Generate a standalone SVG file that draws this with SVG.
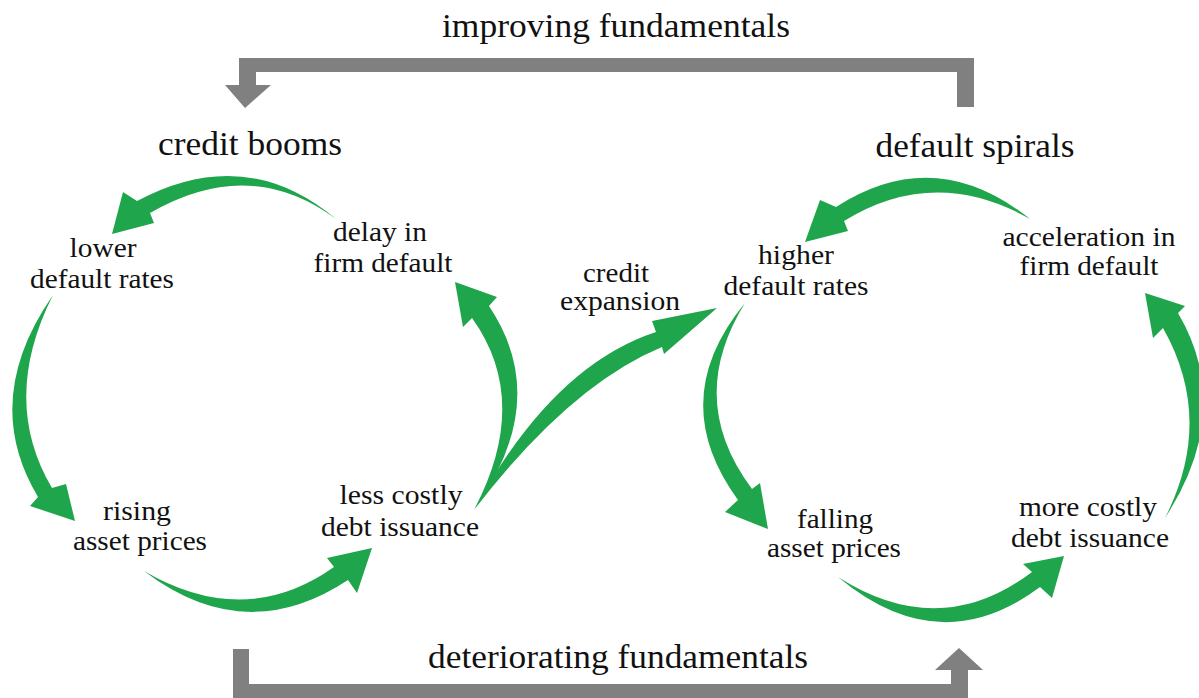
<svg xmlns="http://www.w3.org/2000/svg" width="1199" height="698" viewBox="0 0 1199 698">
<style>
.bg{fill:#ffffff}
.g{fill:#1fa54b}
.gray{fill:#808080}
.lbl{font-family:"Liberation Serif","DejaVu Serif",serif;font-size:27px;fill:#111;text-anchor:middle}
.hd{font-family:"Liberation Serif","DejaVu Serif",serif;font-size:33px;fill:#111;text-anchor:middle}
</style>
<rect class="bg" x="0" y="0" width="1199" height="698"/>

<g id="connectors">
  <path id="gray-top" class="gray" d="M974,58 L974,107 L957,107 L957,72 L256,72 L256,85 L271,85 L245,108 L225,85 L239,85 L239,58 Z"/>
  <path id="gray-bottom" class="gray" d="M233,649 L249,649 L249,684 L951,684 L951,670 L935,670 L959,648 L983,670 L968,670 L968,698 L233,698 Z"/>

  <path id="a-delay-lower" class="g" d="M336,219 Q245,143 137,201 L123,192 L112,234 L154,223 L150,213 Q250,155 336,219 Z"/>
  <path id="a-lower-rising" class="g" d="M53,295 Q-20,400 38,497 L30,506 L75,521 L66,484 L52,488 Q0,400 53,295 Z"/>
  <path id="a-rising-less" class="g" d="M144,571 Q245,648 348,580 L357,593 L372,548 L327,558 L334,567 Q245,630 144,571 Z"/>
  <path id="a-less-delay" class="g" d="M475,508 Q552,400 489,306 L497,297 L455,282 L463,327 L472,318 Q531,400 475,508 Z"/>
  <path id="a-credit" class="g" d="M474,510 Q570,385 662,347 L664,354 L717,308 L652,321 L656,332 Q552,366 474,510 Z"/>

  <path id="a-accel-higher" class="g" d="M1030,219 Q935,143 836,207 L820,200 L805,242 L848,231 L844,221 Q935,165 1030,219 Z"/>
  <path id="a-higher-falling" class="g" d="M745,303 Q665,400 738,500 L725,512 L768,529 L760,483 L752,489 Q685,400 745,303 Z"/>
  <path id="a-falling-more" class="g" d="M838,577 Q940,662 1040,587 L1052,598 L1064,556 L1023,564 L1032,572 Q940,642 838,577 Z"/>
  <path id="a-more-accel" class="g" d="M1165,518 Q1235,410 1178,313 L1185,306 L1145,293 L1153,338 L1163,328 Q1215,420 1165,518 Z"/>
</g>

<g id="headings">
  <text class="hd" x="616" y="37" textLength="348" lengthAdjust="spacingAndGlyphs">improving fundamentals</text>
  <text class="hd" x="250" y="155" textLength="184" lengthAdjust="spacingAndGlyphs">credit booms</text>
  <text class="hd" x="975" y="157" textLength="199" lengthAdjust="spacingAndGlyphs">default spirals</text>
  <text class="hd" x="618" y="668" textLength="380" lengthAdjust="spacingAndGlyphs">deteriorating fundamentals</text>
</g>

<g id="node-lower-default">
  <text class="lbl" x="103" y="257" textLength="67" lengthAdjust="spacingAndGlyphs">lower</text>
  <text class="lbl" x="102" y="288" textLength="144" lengthAdjust="spacingAndGlyphs">default rates</text>
</g>
<g id="node-delay">
  <text class="lbl" x="380" y="241" textLength="94" lengthAdjust="spacingAndGlyphs">delay in</text>
  <text class="lbl" x="383" y="272" textLength="139" lengthAdjust="spacingAndGlyphs">firm default</text>
</g>
<g id="node-rising">
  <text class="lbl" x="137" y="520" textLength="68" lengthAdjust="spacingAndGlyphs">rising</text>
  <text class="lbl" x="140" y="550" textLength="134" lengthAdjust="spacingAndGlyphs">asset prices</text>
</g>
<g id="node-less-costly">
  <text class="lbl" x="401" y="504" textLength="123" lengthAdjust="spacingAndGlyphs">less costly</text>
  <text class="lbl" x="400" y="536" textLength="158" lengthAdjust="spacingAndGlyphs">debt issuance</text>
</g>
<g id="node-credit-expansion">
  <text class="lbl" x="616" y="282" textLength="66" lengthAdjust="spacingAndGlyphs">credit</text>
  <text class="lbl" x="620" y="310" textLength="120" lengthAdjust="spacingAndGlyphs">expansion</text>
</g>
<g id="node-higher-default">
  <text class="lbl" x="796" y="264" textLength="76" lengthAdjust="spacingAndGlyphs">higher</text>
  <text class="lbl" x="796" y="295" textLength="145" lengthAdjust="spacingAndGlyphs">default rates</text>
</g>
<g id="node-acceleration">
  <text class="lbl" x="1089" y="246" textLength="173" lengthAdjust="spacingAndGlyphs">acceleration in</text>
  <text class="lbl" x="1089" y="275" textLength="139" lengthAdjust="spacingAndGlyphs">firm default</text>
</g>
<g id="node-falling">
  <text class="lbl" x="835" y="528" textLength="76" lengthAdjust="spacingAndGlyphs">falling</text>
  <text class="lbl" x="834" y="557" textLength="134" lengthAdjust="spacingAndGlyphs">asset prices</text>
</g>
<g id="node-more-costly">
  <text class="lbl" x="1088" y="516" textLength="138" lengthAdjust="spacingAndGlyphs">more costly</text>
  <text class="lbl" x="1090" y="547" textLength="158" lengthAdjust="spacingAndGlyphs">debt issuance</text>
</g>
</svg>
